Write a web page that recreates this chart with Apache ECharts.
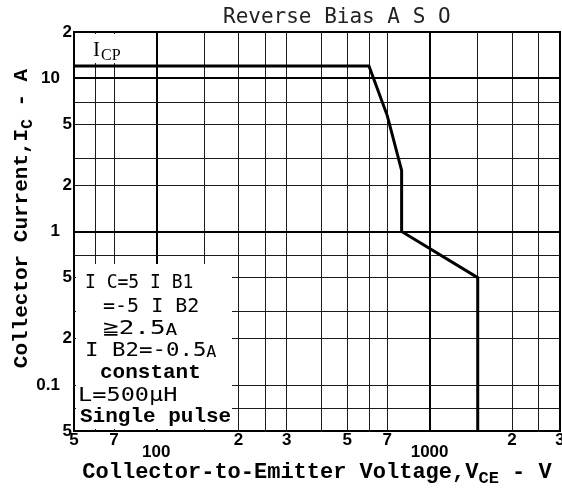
<!DOCTYPE html>
<html>
<head>
<meta charset="utf-8">
<title>Reverse Bias ASO</title>
<script src="https://cdn.jsdelivr.net/npm/echarts@6.0.0/dist/echarts.min.js"></script>
<style>
  html, body { margin: 0; padding: 0; background: #fff; }
  #chart { width: 562px; height: 495px; }
</style>
</head>
<body>
<div id="chart"></div>
<script>
// safe operating area outline (V, A)
var curveV = [50, 600, 700, 790, 790, 1500, 1500];
var curveI = [12, 12, 5.7, 2.5, 1, 0.5, 0.05];

// grid lines of the log paper
var xGrid = [60, 70, 100, 150, 200, 250, 300, 400, 500, 600, 700, 1000, 1500, 2000, 2500];
var yGrid = [0.07, 0.1, 0.2, 0.3, 0.5, 0.7, 1, 2, 3, 5, 7, 10];
var xMajor = [100, 1000];
var yMajor = [1, 10];

// tick labels
var xTickValues = [50, 70, 100, 200, 300, 500, 700, 1000, 2000, 3000];
var xTickLabels = ['5', '7', '100', '2', '3', '5', '7', '1000', '2', '3'];
var yTickValues = [0.05, 0.1, 0.2, 0.5, 1, 2, 5, 10, 20];
var yTickLabels = ['5', '0.1', '2', '5', '1', '2', '5', '10', '2'];
var xDecades = [100, 1000];
var yDecades = [0.1, 1, 10];

function findIdx (list, v) {
  for (var i = 0; i < list.length; i++) {
    if (Math.abs(list[i] - v) / list[i] < 1e-6) return i
  }
  return -1
}

function gridLine (axis, v, major) {
  var item = {
    lineStyle: { color: major ? '#000' : '#1a1a1a', width: major ? 2 : 1, type: 'solid' }
  }
  item[axis] = v
  return item
}

var gridLines = xGrid.map(function (v) { return gridLine('xAxis', v, xMajor.indexOf(v) >= 0) })
  .concat(yGrid.map(function (v) { return gridLine('yAxis', v, yMajor.indexOf(v) >= 0) }))

var mono = 'DejaVu Sans Mono'
var bold = 'Liberation Mono'
var tickFont = 'Liberation Sans'

var chart = echarts.init(document.getElementById('chart'))

var option = {
  animation: false,
  backgroundColor: '#fff',
  title: {
    text: 'Reverse Bias A S O',
    left: 218,
    top: 2,
    textStyle: { fontFamily: mono, fontSize: 21, fontWeight: 'normal', color: '#222' }
  },
  grid: {
    left: 74,
    right: 2,
    top: 32,
    bottom: 64,
    show: true,
    borderColor: '#000',
    borderWidth: 2,
    backgroundColor: '#fff',
    outerBoundsMode: 'none'
  },
  xAxis: {
    type: 'log',
    logBase: 10,
    min: 50,
    max: 3000,
    axisLine: { show: false },
    axisTick: { show: false },
    splitLine: { show: false },
    axisLabel: {
      customValues: xTickValues,
      showMinLabel: true,
      showMaxLabel: true,
      margin: 1,
      fontFamily: tickFont,
      fontWeight: 'bold',
      fontSize: 17,
      color: '#000',
      formatter: function (v) {
        var i = findIdx(xTickValues, v)
        var t = i >= 0 ? xTickLabels[i] : ''
        return xDecades.indexOf(xTickValues[i]) >= 0 ? '{dec|' + t + '}' : t
      },
      rich: {
        dec: { fontFamily: tickFont, fontWeight: 'bold', fontSize: 17, color: '#000', padding: [12, 0, 0, 0] }
      }
    },
    name: 'Collector-to-Emitter Voltage,V{sub|CE} - V',
    nameLocation: 'middle',
    nameGap: 27,
    nameMoveOverlap: false,
    nameTextStyle: {
      fontFamily: bold,
      fontWeight: 'bold',
      fontSize: 22,
      color: '#000',
      rich: {
        sub: { fontFamily: bold, fontWeight: 'bold', fontSize: 17, color: '#000', padding: [12, 0, 0, 0] }
      }
    }
  },
  yAxis: {
    type: 'log',
    logBase: 10,
    min: 0.05,
    max: 20,
    axisLine: { show: false },
    axisTick: { show: false },
    splitLine: { show: false },
    axisLabel: {
      customValues: yTickValues,
      showMinLabel: true,
      showMaxLabel: true,
      margin: 2,
      fontFamily: tickFont,
      fontWeight: 'bold',
      fontSize: 17,
      color: '#000',
      formatter: function (v) {
        var i = findIdx(yTickValues, v)
        var t = i >= 0 ? yTickLabels[i] : ''
        return yDecades.indexOf(yTickValues[i]) >= 0 ? '{dec|' + t + '}' : t
      },
      rich: {
        dec: { fontFamily: tickFont, fontWeight: 'bold', fontSize: 17, color: '#000', padding: [0, 12, 0, 0] }
      }
    },
    name: 'Collector Current,I{sub|C} - A',
    nameLocation: 'middle',
    nameGap: 38,
    nameMoveOverlap: false,
    nameTextStyle: {
      fontFamily: bold,
      fontWeight: 'bold',
      fontSize: 21,
      color: '#000',
      padding: [0, 0, 0, 26],
      rich: {
        sub: { fontFamily: bold, fontWeight: 'bold', fontSize: 16, color: '#000', padding: [12, 0, 0, 0] }
      }
    }
  },
  series: [
    {
      // paper grid
      type: 'line',
      data: [],
      silent: true,
      z: 1,
      markLine: {
        silent: true,
        symbol: 'none',
        z: 1,
        animation: false,
        label: { show: false },
        emphasis: { disabled: true },
        data: gridLines
      }
    },
    {
      type: 'line',
      data: curveV.map(function (v, i) { return [v, curveI[i]] }),
      symbol: 'none',
      silent: true,
      z: 3,
      lineStyle: { color: '#000', width: 3, join: 'miter' }
    }
  ],
  graphic: [
    // blank patch behind I_CP
    { type: 'rect', z: 10, shape: { x: 76, y: 34, width: 74, height: 29 }, style: { fill: '#fff' } },
    { type: 'text', z: 11, x: 93, y: 50, style: { text: 'I', font: '21px "Liberation Serif"', fill: '#000', textVerticalAlign: 'middle' } },
    { type: 'text', z: 11, x: 101, y: 56, style: { text: 'CP', font: '16px "Liberation Serif"', fill: '#000', textVerticalAlign: 'middle' } },
    // conditions box
    { type: 'rect', z: 10, shape: { x: 76, y: 264, width: 156, height: 165 }, style: { fill: '#fff' } },
    { type: 'text', z: 11, x: 85, y: 283, scaleX: 0.9, style: { text: 'I C=5 I B1', font: '20px "DejaVu Sans Mono"', fill: '#000', textVerticalAlign: 'middle' } },
    { type: 'text', z: 11, x: 103, y: 307, style: { text: '=-5 I B2', font: '20px "DejaVu Sans Mono"', fill: '#000', textVerticalAlign: 'middle' } },
    { type: 'text', z: 11, x: 103, y: 329, scaleX: 1.3, style: { text: '≧2.5{s|A}', font: '20px "DejaVu Sans Mono"', fill: '#000', textVerticalAlign: 'middle', rich: { s: { font: '15px "DejaVu Sans Mono"', fill: '#000', padding: [4, 0, 0, 0] } } } },
    { type: 'text', z: 11, x: 85, y: 351, scaleX: 1.12, style: { text: 'I B2=-0.5{s|A}', font: '20px "DejaVu Sans Mono"', fill: '#000', textVerticalAlign: 'middle', rich: { s: { font: '15px "DejaVu Sans Mono"', fill: '#000', padding: [4, 0, 0, 0] } } } },
    { type: 'text', z: 11, x: 100, y: 373, style: { text: 'constant', font: 'bold 21px "Liberation Mono"', fill: '#000', textVerticalAlign: 'middle' } },
    { type: 'text', z: 11, x: 78, y: 396, scaleX: 1.18, style: { text: 'L=500μH', font: '20px "DejaVu Sans Mono"', fill: '#000', textVerticalAlign: 'middle' } },
    { type: 'text', z: 11, x: 80, y: 417, style: { text: 'Single pulse', font: 'bold 21px "Liberation Mono"', fill: '#000', textVerticalAlign: 'middle' } }
  ]
}

chart.setOption(option)
</script>
</body>
</html>
